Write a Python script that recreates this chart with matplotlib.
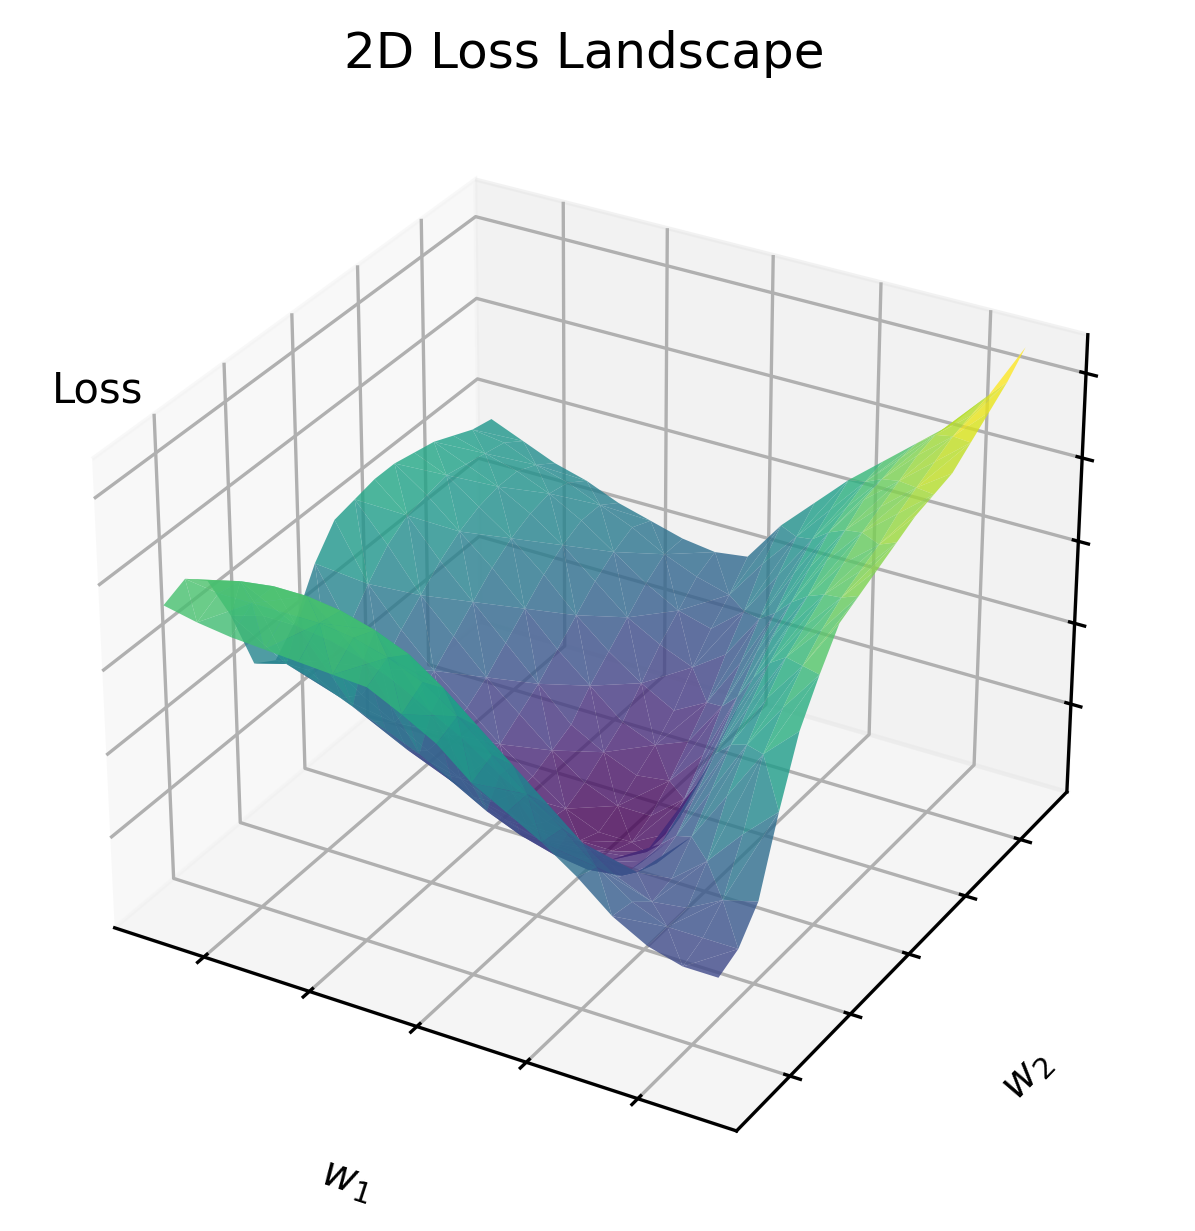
import matplotlib
matplotlib.use('Agg')
import matplotlib.pyplot as plt
import numpy as np

# loss values, rows go along w2, columns along w1
w1 = [-2.5, -2.1875, -1.875, -1.5625, -1.25, -0.9375, -0.625, -0.3125, 0.0,
      0.3125, 0.625, 0.9375, 1.25, 1.5625, 1.875, 2.1875, 2.5]
w2 = [-2.5, -2.1875, -1.875, -1.5625, -1.25, -0.9375, -0.625, -0.3125, 0.0,
      0.3125, 0.625, 0.9375, 1.25, 1.5625, 1.875, 2.1875, 2.5]
loss = [
    [.68, .665, .655, .65, .645, .64, .635, .60, .56, .50, .46, .42, .37, .31, .27, .25, .25],
    [.70, .69, .69, .69, .69, .68, .66, .63, .58, .52, .46, .41, .35, .30, .27, .27, .27],
    [.66, .68, .69, .69, .68, .66, .63, .58, .52, .46, .40, .34, .29, .26, .27, .31, .33],
    [.55, .57, .57, .56, .54, .51, .47, .43, .38, .34, .30, .27, .26, .27, .33, .41, .48],
    [.41, .43, .41, .38, .35, .32, .28, .24, .21, .19, .18, .19, .24, .32, .43, .54, .61],
    [.38, .38, .34, .31, .27, .24, .21, .18, .16, .16, .16, .18, .26, .38, .50, .60, .69],
    [.43, .36, .31, .27, .23, .19, .16, .13, .12, .12, .13, .18, .31, .44, .56, .65, .76],
    [.52, .40, .33, .28, .23, .18, .14, .10, .08, .08, .10, .20, .36, .49, .61, .69, .78],
    [.58, .46, .38, .31, .25, .19, .14, .09, .06, .06, .10, .24, .41, .54, .64, .72, .80],
    [.59, .51, .42, .35, .28, .22, .16, .11, .08, .08, .14, .29, .45, .58, .67, .74, .82],
    [.60, .54, .46, .39, .32, .25, .18, .14, .11, .12, .20, .35, .50, .61, .70, .76, .84],
    [.60, .55, .49, .43, .36, .29, .23, .17, .14, .17, .27, .41, .54, .65, .73, .79, .85],
    [.59, .56, .51, .46, .40, .33, .27, .22, .18, .22, .33, .46, .58, .68, .75, .81, .86],
    [.58, .55, .52, .48, .43, .37, .31, .27, .24, .29, .39, .51, .62, .71, .77, .83, .89],
    [.56, .54, .52, .49, .45, .40, .35, .31, .29, .35, .45, .55, .64, .72, .79, .85, .92],
    [.54, .53, .50, .48, .45, .42, .38, .35, .33, .42, .50, .58, .66, .73, .80, .86, .95],
    [.53, .50, .47, .45, .42, .40, .38, .37, .38, .47, .54, .61, .67, .73, .79, .87, .99],
]
x_ticks = [-2, -1, 0, 1, 2]
y_ticks = [-2, -1, 0, 1, 2]
z_ticks = [.199, .379, .559, .739, .919]

X, Y = np.meshgrid(w1, w2)
Z = np.array(loss)

fig = plt.figure(figsize=(1195 / 300, 1231 / 300), dpi=300)
ax = fig.add_axes([0.026, 0.0241, 0.9264, 0.9002], projection='3d')

ax.plot_trisurf(X.ravel(), Y.ravel(), Z.ravel(), cmap='viridis', alpha=0.8, linewidth=0)

ax.set_xlim(-2.86, 2.87)
ax.set_ylim(-2.86, 2.87)
ax.set_zlim(0, 1)
ax.set_xticks(x_ticks)
ax.set_yticks(y_ticks)
ax.set_zticks(z_ticks)
ax.set_xticklabels([])
ax.set_yticklabels([])
ax.set_zticklabels([])
ax.set_xlabel('$w_1$', fontsize=10, labelpad=5)
ax.set_ylabel('$w_2$', fontsize=10, labelpad=5)

fig.text(98 / 1195, 1 - 390 / 1231, 'Loss', fontsize=10, ha='center', va='center')
fig.suptitle('2D Loss Landscape', fontsize=12, x=584 / 1195, y=1 - 54 / 1231, va='center')

fig.savefig('out.png', dpi=300)
